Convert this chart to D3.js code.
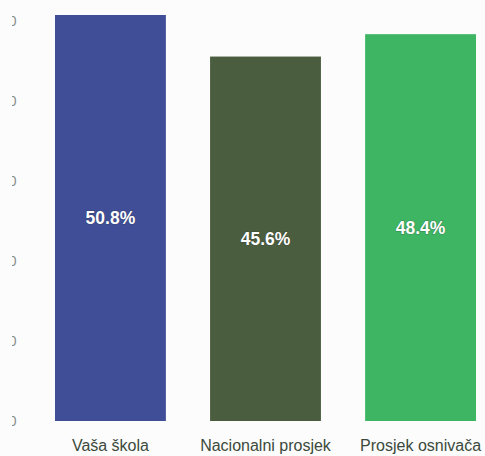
<!DOCTYPE html>
<html>
<head>
<meta charset="utf-8">
<script src="https://cdn.jsdelivr.net/npm/d3@7"></script>
<style>
  html, body { margin: 0; padding: 0; background: #fbfcfb; }
  svg { display: block; }
</style>
</head>
<body>
<svg id="chart" width="485" height="456"></svg>
<script>
const categories = ["Vaša škola", "Nacionalni prosjek", "Prosjek osnivača"];
const values = [50.8, 45.6, 48.4];
const valueLabels = ["50.8%", "45.6%", "48.4%"];
const tickValues = [0, 10, 20, 30, 40, 50];
const colors = ["#3f4e96", "#4b5d3f", "#3db563"];

const svg = d3.select("#chart");

const x = d3.scaleBand().domain(categories).range([55, 476]).paddingInner(0.285).paddingOuter(0);
const y = d3.scaleLinear().domain([0, 50.8]).range([421, 15]);

// clipped y-axis labels (only right edge visible), clip in group coords
svg.append("defs").append("clipPath").attr("id", "axclip")
  .append("rect").attr("x", -4.5).attr("y", 0).attr("width", 40).attr("height", 456);

const axis = d3.axisLeft(y).tickValues(tickValues).tickSize(0).tickFormat(d3.format("d"));
const ag = svg.append("g").attr("transform", "translate(16.5,0)").attr("clip-path", "url(#axclip)");
ag.append("g").call(axis)
  .call(g => g.select(".domain").remove())
  .call(g => g.selectAll("text")
    .attr("x", 0)
    .attr("fill", "#8a8e8a")
    .attr("font-family", "Liberation Sans, Arial, sans-serif")
    .attr("font-size", 14));

const data = categories.map((c, i) => ({ c, v: values[i], label: valueLabels[i], color: colors[i] }));

svg.append("g").selectAll("rect").data(data).join("rect")
  .attr("x", d => x(d.c))
  .attr("y", d => y(d.v))
  .attr("width", x.bandwidth())
  .attr("height", d => y(0) - y(d.v))
  .attr("fill", d => d.color);

svg.append("g").selectAll("text").data(data).join("text")
  .attr("x", d => x(d.c) + x.bandwidth() / 2)
  .attr("y", d => (y(d.v) + y(0)) / 2)
  .attr("dy", "0.35em")
  .attr("text-anchor", "middle")
  .attr("fill", "#ffffff")
  .attr("font-family", "Liberation Sans, Arial, sans-serif")
  .attr("font-weight", "bold")
  .attr("font-size", 17.5)
  .style("paint-order", "stroke")
  .attr("stroke", "rgba(40,40,40,0.35)")
  .attr("stroke-width", 1)
  .text(d => d.label);

svg.append("g").selectAll("text").data(data).join("text")
  .attr("x", d => x(d.c) + x.bandwidth() / 2)
  .attr("y", 445)
  .attr("dy", "0.35em")
  .attr("text-anchor", "middle")
  .attr("fill", "#3c4a3c")
  .attr("font-family", "Liberation Sans, Arial, sans-serif")
  .attr("font-size", 16)
  .text(d => d.c);
</script>
</body>
</html>
